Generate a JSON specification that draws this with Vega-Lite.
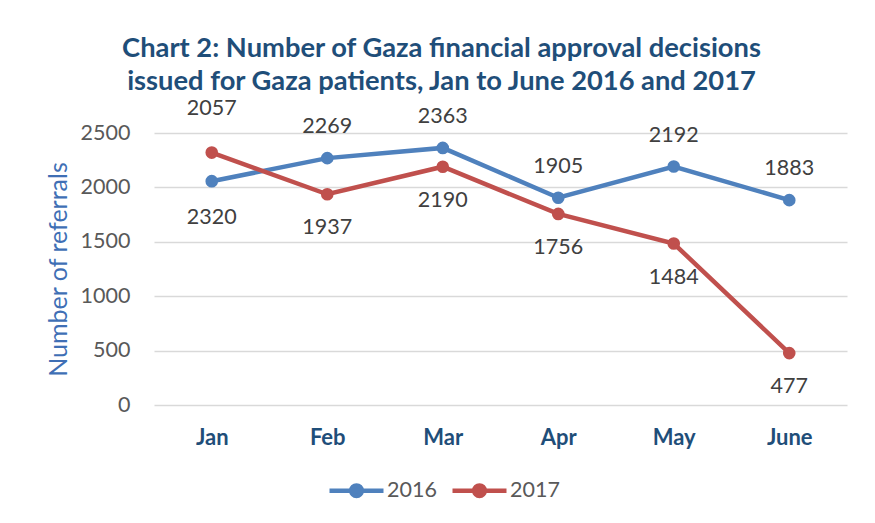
{
  "$schema": "https://vega.github.io/schema/vega-lite/v6.json",
  "width": 693,
  "height": 272,
  "autosize": {"type": "none"},
  "padding": {"left": 154, "top": 133, "right": 28, "bottom": 118},
  "background": "white",
  "title": {
    "text": ["Chart 2: Number of Gaza financial approval decisions", "issued for Gaza patients, Jan to June 2016 and 2017"],
    "font": "Lato",
    "fontSize": 27.3,
    "fontWeight": "bold",
    "color": "#1F4E79",
    "anchor": "middle",
    "frame": "group",
    "dx": -59,
    "offset": 3,
    "lineHeight": 33
  },
  "data": {
    "values": [
      {"month": "Jan", "year": "2016", "value": 2057},
      {"month": "Feb", "year": "2016", "value": 2269},
      {"month": "Mar", "year": "2016", "value": 2363},
      {"month": "Apr", "year": "2016", "value": 1905},
      {"month": "May", "year": "2016", "value": 2192},
      {"month": "June", "year": "2016", "value": 1883},
      {"month": "Jan", "year": "2017", "value": 2320},
      {"month": "Feb", "year": "2017", "value": 1937},
      {"month": "Mar", "year": "2017", "value": 2190},
      {"month": "Apr", "year": "2017", "value": 1756},
      {"month": "May", "year": "2017", "value": 1484},
      {"month": "June", "year": "2017", "value": 477}
    ]
  },
  "encoding": {
    "x": {
      "field": "month",
      "type": "ordinal",
      "sort": ["Jan", "Feb", "Mar", "Apr", "May", "June"],
      "scale": {"type": "point", "padding": 0.5},
      "axis": {
        "title": null,
        "labelAngle": 0,
        "labelFont": "Lato",
        "labelFontSize": 22,
        "labelFontWeight": "bold",
        "labelColor": "#1F4E79",
        "labelPadding": 22,
        "ticks": false,
        "domain": false,
        "grid": false
      }
    },
    "y": {
      "field": "value",
      "type": "quantitative",
      "scale": {"domain": [0, 2500], "nice": false},
      "axis": {
        "title": "Number of referrals",
        "titleFont": "Lato",
        "titleFontSize": 25,
        "titleFontWeight": "normal",
        "titleColor": "#3F6FB5",
        "titlePadding": 9,
        "values": [0, 500, 1000, 1500, 2000, 2500],
        "format": "d",
        "labelFont": "Lato",
        "labelFontSize": 21.5,
        "labelColor": "#595959",
        "labelPadding": 24,
        "ticks": false,
        "domain": false,
        "grid": true,
        "gridColor": "#D9D9D9",
        "gridWidth": 1.5
      }
    },
    "color": {
      "field": "year",
      "type": "nominal",
      "scale": {"domain": ["2016", "2017"], "range": ["#4F81BD", "#C0504D"]},
      "legend": {
        "title": null,
        "orient": "none",
        "direction": "horizontal",
        "legendX": 185,
        "legendY": 340,
        "padding": 0,
        "symbolType": "M-1.8,0L1.8,0M0.35,0A0.35,0.35 0 1,1 -0.35,0A0.35,0.35 0 1,1 0.35,0Z",
        "symbolSize": 900,
        "symbolStrokeWidth": 4.5,
        "symbolOpacity": 1,
        "labelFont": "Lato",
        "labelFontSize": 21.5,
        "labelColor": "#595959",
        "labelOffset": 13,
        "columnPadding": 6,
        "encode": {
          "symbols": {
            "update": {
              "stroke": {"scale": "color", "field": "value"},
              "fill": {"scale": "color", "field": "value"}
            }
          }
        }
      }
    }
  },
  "layer": [
    {
      "mark": {"type": "line", "strokeWidth": 4.5}
    },
    {
      "mark": {"type": "point", "filled": true, "size": 160, "opacity": 1}
    },
    {
      "transform": [{"filter": "datum.year == '2016' && datum.month != 'Jan'"}],
      "mark": {"type": "text", "dy": -31, "font": "Lato", "fontSize": 21.5, "color": "#404040"},
      "encoding": {"text": {"field": "value", "type": "quantitative"}, "color": {"value": "#404040"}}
    },
    {
      "transform": [{"filter": "datum.year == '2016' && datum.month == 'Jan'"}],
      "mark": {"type": "text", "dy": -72, "font": "Lato", "fontSize": 21.5, "color": "#404040"},
      "encoding": {"text": {"field": "value", "type": "quantitative"}, "color": {"value": "#404040"}}
    },
    {
      "transform": [{"filter": "datum.year == '2017' && datum.month != 'Jan'"}],
      "mark": {"type": "text", "dy": 34, "font": "Lato", "fontSize": 21.5, "color": "#404040"},
      "encoding": {"text": {"field": "value", "type": "quantitative"}, "color": {"value": "#404040"}}
    },
    {
      "transform": [{"filter": "datum.year == '2017' && datum.month == 'Jan'"}],
      "mark": {"type": "text", "dy": 65, "font": "Lato", "fontSize": 21.5, "color": "#404040"},
      "encoding": {"text": {"field": "value", "type": "quantitative"}, "color": {"value": "#404040"}}
    }
  ],
  "config": {"view": {"stroke": null}}
}
